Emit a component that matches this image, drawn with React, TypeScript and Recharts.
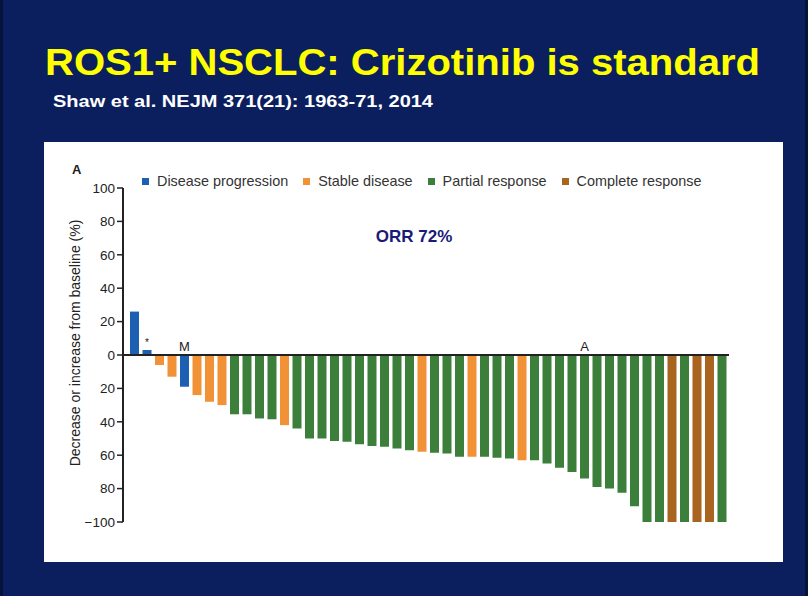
import React from 'react';
import { BarChart, Bar, XAxis, YAxis, Cell, ReferenceLine, LabelList } from 'recharts';

// best % change from baseline, one bar per patient
const changeValues = [
  26, 3, -6, -13, -19, -24, -28, -30, -35.5, -35.5, -38, -38.5, -42, -44, -50, -50,
  -51.5, -52, -53.5, -54.5, -55, -56, -57, -58, -58.5, -59, -61, -61, -61, -61.5, -62, -63,
  -63, -65, -67.5, -70, -74, -79, -80, -82.5, -90.5, -100, -100, -100, -100, -100, -100, -100,
];

// index into responseCategories for each bar
const responseIdx = [
  0, 0, 1, 1, 0, 1, 1, 1, 2, 2, 2, 2, 1, 2, 2, 2, 2, 2, 2, 2, 2, 2, 2, 1,
  2, 2, 2, 1, 2, 2, 2, 1, 2, 2, 2, 2, 2, 2, 2, 2, 2, 2, 2, 3, 2, 3, 3, 2,
];

const responseCategories = ['Disease progression', 'Stable disease', 'Partial response', 'Complete response'];
const responseColors = ['#1d5fb0', '#f29236', '#3b7f3a', '#a9651f'];

// small annotations above some bars
const markBars = [1, 4, 36];
const markText = ['*', 'M', 'A'];

const yTicks = [-100, -80, -60, -40, -20, 0, 20, 40, 60, 80, 100];

const data = changeValues.map((v, i) => ({
  id: i + 1,
  change: v,
  resp: responseIdx[i],
  mark: markBars.includes(i) ? markText[markBars.indexOf(i)] : '',
}));

const FONT = '"Liberation Sans", Arial, sans-serif';

function ResponseLegend() {
  return (
    <div style={{ position: 'absolute', left: 142, top: 172, display: 'flex', alignItems: 'center', fontFamily: FONT, fontSize: 14.4, color: '#333', lineHeight: '18px' }}>
      {responseCategories.map((name, i) => (
        <div key={name} style={{ display: 'flex', alignItems: 'center', marginRight: 15 }}>
          <span style={{ width: 7, height: 7, background: responseColors[i], marginRight: 8, display: 'inline-block' }} />
          <span>{name}</span>
        </div>
      ))}
    </div>
  );
}

function renderMark(props: any) {
  const { x, y, width, height, value } = props;
  if (!value) return null;
  const top = Math.min(y, y + height);
  return (
    <text x={x + width / 2} y={top - 4} textAnchor="middle" fontSize={value === '*' ? 10 : 13} fontFamily={FONT} fill="#222">
      {value}
    </text>
  );
}

export default function App() {
  return (
    <div style={{ position: 'absolute', left: 0, top: 0, width: 808, height: 596, background: '#0b1f5e', overflow: 'hidden' }}>
      <div style={{ position: 'absolute', left: 0, top: 0, width: 3, height: 596, background: '#06123a' }} />
      <div style={{ position: 'absolute', right: 0, top: 0, width: 3, height: 596, background: '#06123a' }} />
      <div style={{ position: 'absolute', left: 44, top: 142, width: 739, height: 420, background: '#fff' }} />
      <svg width={808} height={596} style={{ position: 'absolute', left: 0, top: 0 }}>
        <text x={45} y={75} fontFamily={FONT} fontWeight="bold" fontSize={36} fill="#ffff00" textLength={715} lengthAdjust="spacingAndGlyphs">
          ROS1+ NSCLC: Crizotinib is standard
        </text>
        <text x={53} y={107} fontFamily={FONT} fontWeight="bold" fontSize={17} fill="#fff" textLength={380} lengthAdjust="spacingAndGlyphs">
          Shaw et al. NEJM 371(21): 1963-71, 2014
        </text>
      </svg>
      <div style={{ position: 'absolute', left: 0, top: 0 }}>
        <BarChart width={808} height={596} data={data} margin={{ top: 188, right: 79, bottom: 74, left: 63 }}>
          <XAxis dataKey="id" hide padding={{ left: 5, right: 1 }} />
          <YAxis
            width={60}
            domain={[-100, 100]}
            ticks={yTicks}
            tickFormatter={(v: number) => (v === -100 ? '\u2212100' : String(Math.abs(v)))}
            axisLine={{ stroke: '#222', strokeWidth: 2 }}
            tickLine={{ stroke: '#222', strokeWidth: 1.5 }}
            tickSize={6}
            tickMargin={2}
            tick={{ fill: '#222', fontSize: 13.5, fontFamily: FONT }}
          />
          <ReferenceLine y={0} stroke="#222" strokeWidth={2} />
          <Bar dataKey="change" barSize={9} isAnimationActive={false}>
            {data.map((d) => (
              <Cell key={d.id} fill={responseColors[d.resp]} />
            ))}
            <LabelList dataKey="mark" content={renderMark} />
          </Bar>
        </BarChart>
      </div>
      <ResponseLegend />
      <svg width={808} height={596} style={{ position: 'absolute', left: 0, top: 0, pointerEvents: 'none' }}>
        <text x={72} y={174} fontFamily={FONT} fontWeight="bold" fontSize={13} fill="#222">A</text>
        <text x={414} y={242} textAnchor="middle" fontFamily={FONT} fontWeight="bold" fontSize={17} fill="#1a1a7a">ORR 72%</text>
        <text
          x={0}
          y={0}
          transform="translate(80 343) rotate(-90)"
          textAnchor="middle"
          fontFamily={FONT}
          fontSize={14}
          fill="#222"
        >
          Decrease or increase from baseline (%)
        </text>
      </svg>
    </div>
  );
}
